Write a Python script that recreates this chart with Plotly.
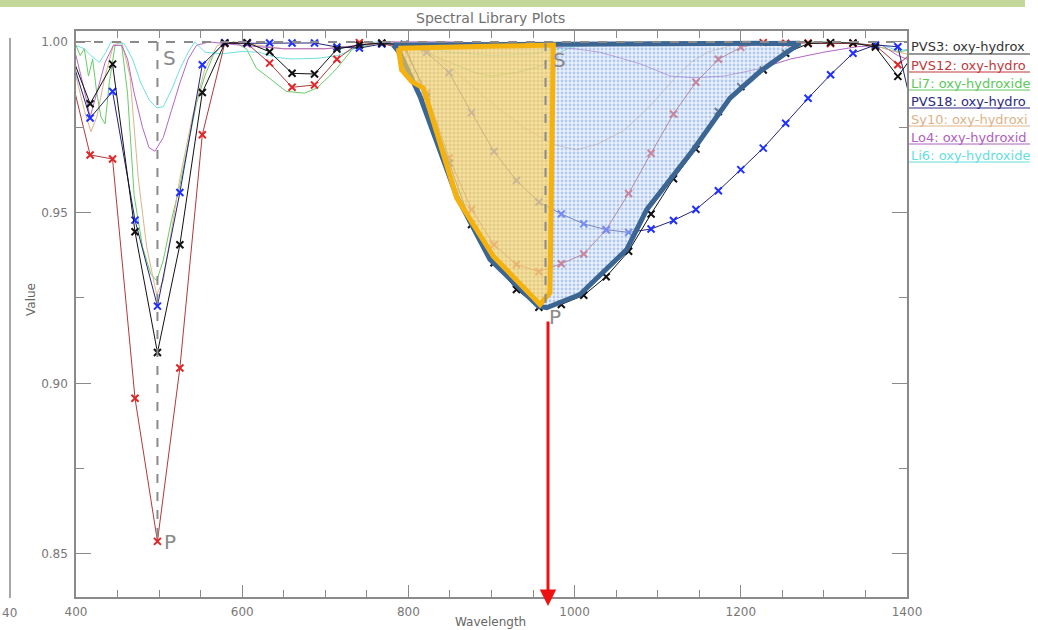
import plotly.graph_objects as go

# ---------------- data ----------------
WL_MARK = [390, 417, 444, 471, 498, 525, 552, 579, 606, 633, 660, 687, 714, 741, 768,
           795, 822, 849, 876, 903, 930, 957, 984, 1011, 1038, 1065, 1092, 1119, 1146,
           1173, 1200, 1227, 1254, 1281, 1308, 1335, 1362, 1389, 1416]
PVS3 = [0.999, 0.9819, 0.9935, 0.9444, 0.9090, 0.9406, 0.9852, 0.9996, 0.9998, 0.9971,
        0.9908, 0.9906, 0.9979, 0.9991, 0.9997, 0.9990, 0.9840, 0.9645, 0.9465, 0.9353,
        0.9275, 0.9223, 0.9231, 0.9258, 0.9312, 0.9387, 0.9496, 0.9599, 0.9686, 0.9796,
        0.9869, 0.9918, 0.9967, 0.9995, 0.9998, 0.9997, 0.9985, 0.9899, 0.9990]
PVS12 = [0.994, 0.9669, 0.9657, 0.8956, 0.8537, 0.9045, 0.9728, 0.9996, 0.9995, 0.9938,
         0.9867, 0.9874, 0.9949, 0.9998, 0.9995, 0.9980, 0.9850, 0.9660, 0.9509, 0.9406,
         0.9348, 0.9327, 0.9350, 0.9379, 0.9450, 0.9556, 0.9674, 0.9789, 0.9882, 0.9949,
         0.9984, 0.9998, 0.9996, 0.9997, 0.9995, 0.9996, 0.9990, 0.9933, 0.9990]
PVS18 = [0.999, 0.9777, 0.9855, 0.9478, 0.9226, 0.9559, 0.9933, 0.9998, 0.9996, 0.9997,
         0.9997, 0.9997, 0.9985, 0.9982, 0.9994, 0.9993, 0.9970, 0.9910, 0.9793, 0.9679,
         0.9594, 0.9531, 0.9496, 0.9467, 0.9450, 0.9442, 0.9452, 0.9477, 0.9509, 0.9564,
         0.9626, 0.9689, 0.9762, 0.9835, 0.9904, 0.9967, 0.9991, 0.9986, 0.9700]

LI7_WL = [390, 400, 405, 410, 415, 420, 425, 430, 435, 440, 447, 455, 462, 470, 480, 490,
          497, 505, 515, 525, 535, 545, 555, 565, 575, 590, 605, 617, 630, 653, 675, 690,
          705, 714, 733, 750, 770, 800, 820, 850, 880, 900, 930, 960, 975, 1000, 1100,
          1200, 1300, 1360, 1389, 1410]
LI7 = [0.998, 0.999, 0.996, 0.998, 0.990, 0.995, 0.985, 0.978, 0.976, 0.988, 0.999, 0.999,
       0.985, 0.955, 0.940, 0.932, 0.930, 0.936, 0.948, 0.958, 0.970, 0.982, 0.990, 0.996,
       0.999, 1.000, 0.998, 0.9923, 0.9899, 0.9855, 0.985, 0.9865, 0.990, 0.9923, 0.998,
       0.999, 1.000, 0.999, 0.997, 0.994, 0.991, 0.990, 0.991, 0.993, 0.996, 0.999, 1.000,
       1.000, 1.000, 0.999, 0.997, 0.998]

SY10_WL = [390, 400, 410, 418, 425, 435, 445, 455, 465, 475, 485, 497, 505, 515, 525, 540,
           555, 570, 590, 620, 650, 700, 750, 780, 800, 826, 858, 898, 938, 974, 1002,
           1027, 1059, 1090, 1119, 1140, 1160, 1190, 1250, 1300, 1360, 1389, 1410]
SY10 = [0.995, 0.990, 0.980, 0.9737, 0.978, 0.990, 0.999, 1.000, 0.990, 0.960, 0.940, 0.926,
        0.930, 0.945, 0.960, 0.978, 0.992, 0.999, 1.000, 0.999, 0.998, 0.998, 0.999, 1.000,
        0.999, 0.997, 0.991, 0.9825, 0.975, 0.970, 0.9684, 0.970, 0.974, 0.981, 0.989,
        0.994, 0.997, 0.999, 1.000, 1.000, 0.999, 0.997, 0.996]

LO4_WL = [390, 400, 408, 417, 425, 435, 445, 455, 462, 470, 480, 488, 495, 505, 515, 525,
          535, 545, 560, 600, 650, 700, 740, 780, 850, 950, 1000, 1030, 1059, 1080, 1115,
          1143, 1180, 1220, 1260, 1300, 1340, 1370, 1389, 1410]
LO4 = [1.000, 0.996, 0.988, 0.978, 0.985, 0.994, 0.999, 0.999, 0.995, 0.985, 0.975, 0.969,
       0.968, 0.972, 0.980, 0.988, 0.995, 0.999, 1.000, 0.999, 0.998, 0.998, 0.999, 1.000,
       1.000, 0.999, 0.998, 0.997, 0.995, 0.9935, 0.990, 0.9895, 0.990, 0.992, 0.995,
       0.997, 0.9986, 0.999, 0.996, 0.994]

LI6_WL = [390, 400, 410, 418, 428, 436, 442, 458, 468, 478, 488, 497, 505, 515, 525, 535,
          543, 555, 575, 600, 620, 640, 660, 690, 715, 735, 760, 800, 850, 900, 950, 980,
          1020, 1100, 1300, 1370, 1389, 1410]
LI6 = [1.000, 0.999, 0.998, 0.996, 0.994, 0.997, 1.000, 0.9995, 0.995, 0.988, 0.983, 0.9807,
       0.981, 0.986, 0.992, 0.997, 1.000, 0.997, 0.9965, 0.9972, 0.997, 0.9955, 0.995,
       0.9952, 0.996, 0.998, 1.000, 0.999, 0.997, 0.996, 0.9965, 0.998, 0.999, 1.000,
       1.000, 0.999, 0.9975, 0.998]

# annotation polygons (hand-drawn highlight regions), in data units
BLUE_WL = [781.8, 1271.2, 1251.1, 1223.1, 1187.0, 1142.8, 1114.8, 1086.8, 1062.7, 1038.6,
           1006.5, 966.4, 956.3, 898.2, 858.1, 814.0, 789.9]
BLUE_V = [0.99912, 0.99962, 0.99620, 0.99132, 0.98354, 0.96842, 0.95965, 0.95088, 0.93918,
          0.93333, 0.92602, 0.92213, 0.92260, 0.93626, 0.95477, 0.98401, 0.99670]
YEL_WL = [787.8, 974.4, 970.4, 958.4, 902.2, 858.1, 817.9, 804.0, 791.9]
YEL_V = [0.99816, 0.99912, 0.92652, 0.92310, 0.93722, 0.95430, 0.98646, 0.98839, 0.99181]

FEATURE_WL = [498, 965]
FEATURE_P = [0.8537, 0.9223]
S_LABEL_WL = [513, 982]
S_LABEL_V = [0.9953, 0.9947]
P_LABEL_WL = [513, 976]
P_LABEL_V = [0.8535, 0.9193]
ARROW_WL = 968

LEGEND = ["PVS3: oxy-hydrox", "PVS12: oxy-hydro", "Li7: oxy-hydroxide",
          "PVS18: oxy-hydro", "Sy10: oxy-hydroxi", "Lo4: oxy-hydroxid",
          "Li6: oxy-hydroxide"]
LEGEND_COLORS = ["#333333", "#c0393b", "#5cc85c", "#2a2a80", "#dcb48a", "#b060c0", "#66dede"]

# ---------------- figure ----------------
W, H = 1038, 630
L, R, T, B = 76, 131, 31, 33
PW, PH = W - L - R, H - T - B
YMIN, YMAX = 0.8374, 1.0032
GRAY = "#8a8a8a"


def px_x(p):
    return (p - L) / PW


def px_y(p):
    return (H - B - p) / PH


fig = go.Figure()

thin = [(LI7_WL, LI7, "#66cc66"), (SY10_WL, SY10, "#dcb48a"),
        (LO4_WL, LO4, "#b565c5"), (LI6_WL, LI6, "#70e0e0")]
for xs, ys, c in thin:
    fig.add_trace(go.Scatter(x=xs, y=ys, mode="lines", line=dict(color=c, width=1),
                             hoverinfo="skip"))

marked = [(PVS12, "#b03a3a", "#e02525"), (PVS18, "#23237a", "#1f2fff"),
          (PVS3, "#111111", "#111111")]
for ys, lc, mc in marked:
    fig.add_trace(go.Scatter(x=WL_MARK, y=ys, mode="lines+markers",
                             line=dict(color=lc, width=1),
                             marker=dict(symbol="x-thin", size=7, color=mc,
                                         line=dict(width=2, color=mc))))

# dashed reference lines
fig.add_shape(type="line", x0=400, x1=1400, y0=1.0, y1=1.0,
              line=dict(color=GRAY, width=2, dash="dash"))
for wl, p in zip(FEATURE_WL, FEATURE_P):
    fig.add_shape(type="line", x0=wl, x1=wl, y0=1.0, y1=p,
                  line=dict(color=GRAY, width=2, dash="dash"))

# highlight polygons
fig.add_trace(go.Scatter(x=BLUE_WL + BLUE_WL[:1], y=BLUE_V + BLUE_V[:1], mode="lines",
                         fill="toself", fillcolor="rgba(200,220,248,0.5)",
                         fillpattern=dict(shape=".", fgcolor="rgba(95,140,215,0.8)",
                                          bgcolor="rgba(212,228,250,0.5)", size=4,
                                          solidity=0.4),
                         line=dict(color="#3b6592", width=5), hoverinfo="skip"))
fig.add_trace(go.Scatter(x=YEL_WL + YEL_WL[:1], y=YEL_V + YEL_V[:1], mode="lines",
                         fill="toself", fillcolor="rgba(255,210,90,0.55)",
                         fillpattern=dict(shape="+", fgcolor="rgba(230,170,40,0.5)",
                                          bgcolor="rgba(255,214,95,0.6)", size=4,
                                          solidity=0.3),
                         line=dict(color="#f5b20c", width=5), hoverinfo="skip"))

for x, y in zip(S_LABEL_WL, S_LABEL_V):
    fig.add_annotation(x=x, y=y, text="S", showarrow=False,
                       font=dict(size=20, color=GRAY, family="DejaVu Sans"))
for x, y in zip(P_LABEL_WL, P_LABEL_V):
    fig.add_annotation(x=x, y=y, text="P", showarrow=False,
                       font=dict(size=20, color=GRAY, family="DejaVu Sans"))

# red arrow
fig.add_annotation(x=ARROW_WL, y=px_y(606), xref="x", yref="paper", text="",
                   showarrow=True, ax=0, ay=-(606 - 320), arrowcolor="#ee1111",
                   arrowwidth=3, arrowhead=2, arrowsize=1.1)

# legend text
for i, (txt, c) in enumerate(zip(LEGEND, LEGEND_COLORS)):
    yp = 47 + i * 18
    fig.add_annotation(x=px_x(909), y=px_y(yp), xref="paper", yref="paper", text=txt,
                       showarrow=False, xanchor="left", yanchor="middle",
                       font=dict(size=13, color=c, family="DejaVu Sans"))
    fig.add_shape(type="line", xref="paper", yref="paper", x0=px_x(909), x1=px_x(1030),
                  y0=px_y(yp + 7), y1=px_y(yp + 7), line=dict(color=c, width=1))

# titles
fig.add_annotation(x=px_x(490), y=px_y(18), xref="paper", yref="paper",
                   text="Spectral Library Plots", showarrow=False, yanchor="middle",
                   font=dict(size=14, color="#707070", family="DejaVu Sans"))
fig.add_annotation(x=px_x(490), y=px_y(622), xref="paper", yref="paper",
                   text="Wavelength", showarrow=False, yanchor="middle",
                   font=dict(size=12, color="#666", family="DejaVu Sans"))
fig.add_annotation(x=px_x(22), y=px_y(300), xref="paper", yref="paper",
                   text="Value", showarrow=False, textangle=-90,
                   font=dict(size=12, color="#666", family="DejaVu Sans"))

# top decorative bar and neighbouring-chart remnant
fig.add_shape(type="rect", xref="paper", yref="paper", x0=px_x(0), x1=px_x(1025),
              y0=px_y(7), y1=px_y(0), line=dict(width=0), fillcolor="#c4d79b", layer="above")
fig.add_shape(type="line", xref="paper", yref="paper", x0=px_x(10), x1=px_x(10),
              y0=px_y(598), y1=px_y(38), line=dict(color=GRAY, width=1.5))
fig.add_annotation(x=px_x(0), y=px_y(613), xref="paper", yref="paper", text="40",
                   showarrow=False, xanchor="left", yanchor="middle",
                   font=dict(size=12, color="#777", family="DejaVu Sans"))

axis_common = dict(showline=True, linecolor=GRAY, linewidth=1.5, mirror="ticks",
                   ticks="inside", tickcolor=GRAY, showgrid=False, zeroline=False,
                   automargin=False,
                   tickfont=dict(size=12, color="#777", family="DejaVu Sans"))

fig.update_layout(
    width=W, height=H, margin=dict(l=L, r=R, t=T, b=B, autoexpand=False),
    plot_bgcolor="white", paper_bgcolor="white", showlegend=False,
    font=dict(family="DejaVu Sans", color="#777"),
    xaxis=dict(range=[400, 1400], tick0=400, dtick=200, ticklen=12, ticklabelstandoff=3,
               minor=dict(dtick=50, ticklen=7, ticks="inside", tickcolor=GRAY),
               **axis_common),
    yaxis=dict(range=[YMIN, YMAX], tick0=0.85, dtick=0.05, tickformat=".2f", ticklen=15,
               minor=dict(dtick=0.025, ticklen=8, ticks="inside", tickcolor=GRAY),
               ticklabelstandoff=4,
               **axis_common),
)

fig.write_html("out.html", config={"displayModeBar": False},
               post_script="document.body.style.margin='0px';")
